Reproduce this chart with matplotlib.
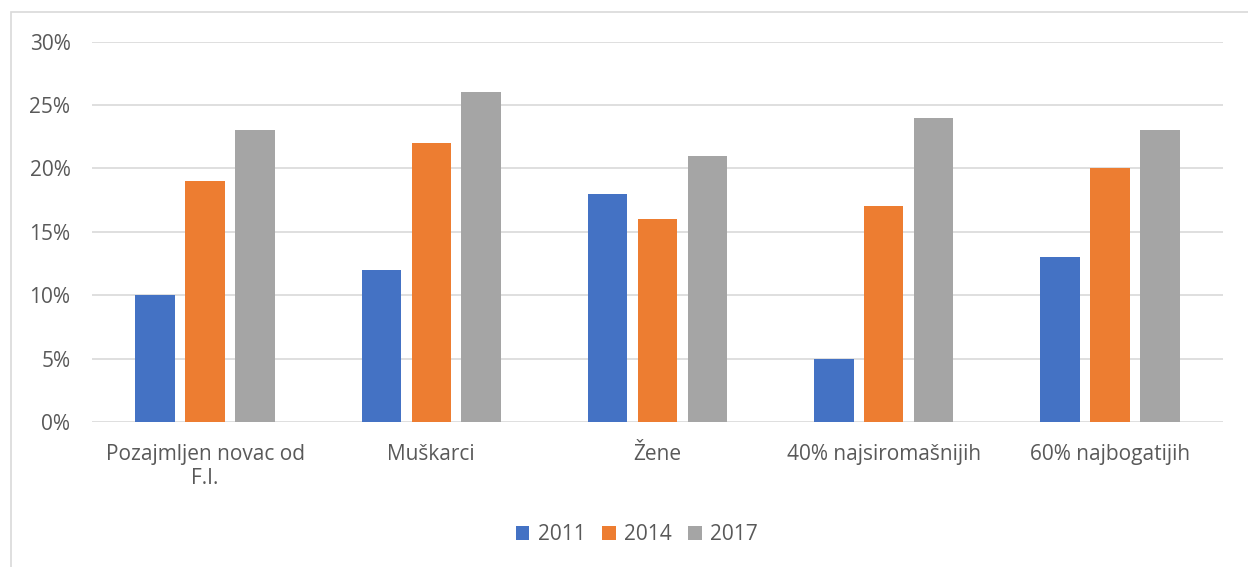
import matplotlib
matplotlib.use("Agg")
import matplotlib.pyplot as plt
import numpy as np
from matplotlib.patches import Rectangle

categories = ["Pozajmljen novac od\nF.I.", "Muškarci", "Žene", "40% najsiromašnijih", "60% najbogatijih"]
years = ["2011", "2014", "2017"]
v2011 = [10, 12, 18, 5, 13]
v2014 = [19, 22, 16, 17, 20]
v2017 = [23, 26, 21, 24, 23]
yticks = [0, 5, 10, 15, 20, 25, 30]

colors = ["#4472C4", "#ED7D31", "#A5A5A5"]
txt = "#595959"
plt.rcParams['font.family'] = ['Open Sans', 'DejaVu Sans']

W, H = 1248, 567
fig = plt.figure(figsize=(W/100, H/100), dpi=100)
ax = fig.add_axes([92/W, 1-422/H, (1223-92)/W, (422-41.5)/H])

x = np.arange(len(categories))
bw = 0.175
step = 0.221
for i, (vals, c, lab) in enumerate(zip([v2011, v2014, v2017], colors, years)):
    ax.bar(x + (i-1)*step, vals, width=bw, color=c, label=lab, zorder=3)

fs = 15
ax.set_xlim(-0.5, len(categories)-0.5)
ax.set_ylim(0, 30)
ax.set_yticks(yticks)
ax.set_yticklabels([f"{t}%" for t in yticks], fontsize=fs, color=txt)
ax.set_xticks(x)
ax.set_xticklabels(categories, fontsize=fs, color=txt, linespacing=1.2, va='top')
ax.tick_params(axis='both', length=0)
ax.tick_params(axis='x', pad=16)
ax.tick_params(axis='y', pad=15.5)
ax.grid(axis='y', color="#D9D9D9", linewidth=1.2, zorder=0)
for s in ax.spines.values():
    s.set_visible(False)

# chart border
fig.patches.append(Rectangle((11/W, -0.1), 1.2, 1-12/H+0.1, transform=fig.transFigure,
                             fill=False, edgecolor="#D9D9D9", linewidth=1.2))

leg = fig.legend(loc='center', bbox_to_anchor=(637/W, 1-535/H), ncol=3, frameon=False,
                 fontsize=fs, handlelength=0.65, handleheight=0.65, handletextpad=0.4,
                 columnspacing=0.8)
for t in leg.get_texts():
    t.set_color(txt)

fig.savefig("out.png", dpi=100)
